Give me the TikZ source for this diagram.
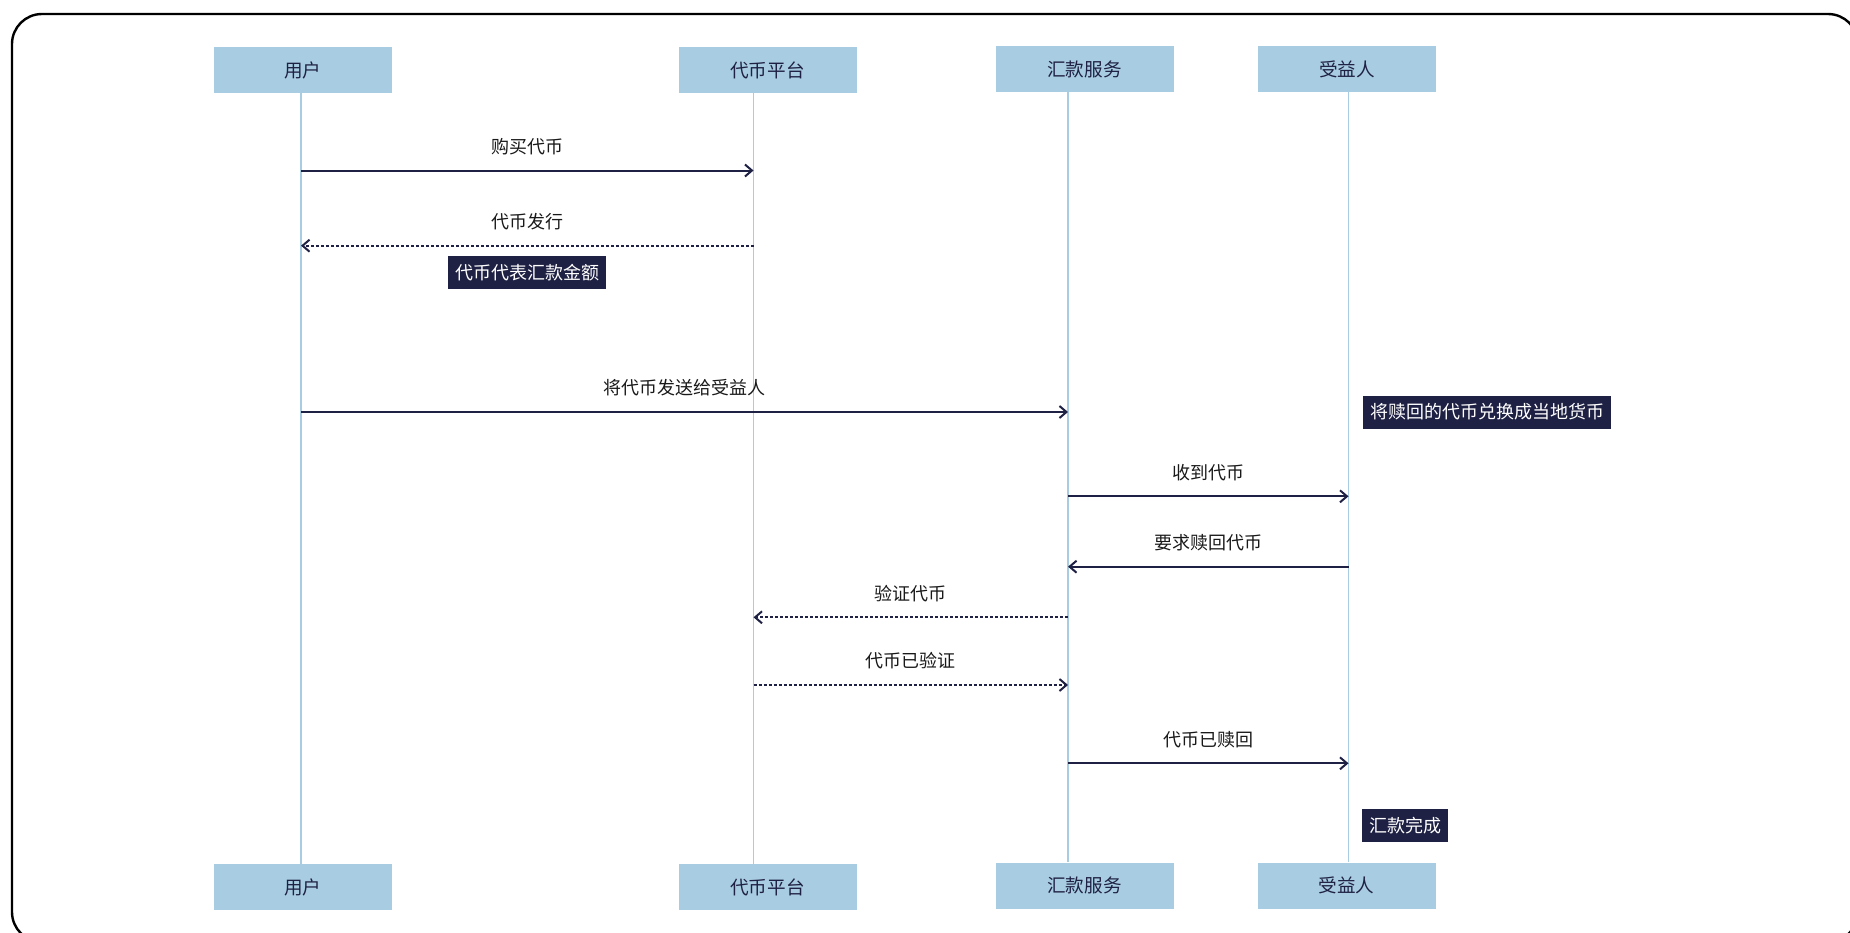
\documentclass[tikz,border=0pt]{standalone}
\usepackage{fontspec}
\newfontfamily\cjk{Noto Sans CJK SC}
\usetikzlibrary{arrows.meta}
\definecolor{boxblue}{HTML}{A8CCE1}
\definecolor{navy}{HTML}{1F2144}
\tikzset{
  actor/.style={fill=boxblue, minimum width=89pt, minimum height=23pt, inner sep=0pt,
    text=navy, font=\cjk\fontsize{9.3}{10}\selectfont},
  life/.style={draw=boxblue, line width=0.6pt},
  msg/.style={draw=navy, line width=1pt, -{Straight Barb[length=3.5pt,width=6pt]}},
  reply/.style={msg, dash pattern=on 1.5pt off 1pt},
  lbl/.style={midway, yshift=12pt, text=black!90, font=\cjk\fontsize{9}{10}\selectfont},
  note/.style={fill=navy, text=white, inner xsep=3.6pt, inner ysep=0pt, minimum height=16.5pt,
    font=\cjk\fontsize{9}{10}\selectfont}
}
\begin{document}
\begin{tikzpicture}[x=0.5pt, y=-0.5pt]
        \useasboundingbox (0,0) rectangle (1850,932);
        \draw[line width=1.2pt, rounded corners=15pt] (12,14) rectangle (1858,942);
        %
        \node[actor] (userT) at (302.6,70) {用户};
        \node[actor] (platT) at (767.5,70) {代币平台};
        \node[actor] (servT) at (1084.5,69) {汇款服务};
        \node[actor] (beneT) at (1347,69) {受益人};
        \node[actor] (userB) at (302.6,887) {用户};
        \node[actor] (platB) at (767.5,887) {代币平台};
        \node[actor] (servB) at (1084.5,885.5) {汇款服务};
        \node[actor] (beneB) at (1346.5,885.5) {受益人};
        %
        \coordinate (lu) at (301,0);
        \coordinate (lp) at (753.5,0);
        \coordinate (ls) at (1068,0);
        \coordinate (lb) at (1348.5,0);
        \draw[life] (lu |- userT.south) -- (lu |- userB.north);
        \draw[life] (lp |- platT.south) -- (lp |- platB.north);
        \draw[life] (ls |- servT.south) -- (ls |- servB.north);
        \draw[life] (lb |- beneT.south) -- (lb |- beneB.north);
        %
        \coordinate (r1) at (0,170.5);
        \coordinate (r2) at (0,245.7);
        \coordinate (r4) at (0,412);
        \coordinate (r6) at (0,496.3);
        \coordinate (r7) at (0,566.7);
        \coordinate (r8) at (0,617.3);
        \coordinate (r9) at (0,685);
        \coordinate (r10) at (0,763.3);
        %
        \draw[msg] (lu |- r1) -- node[lbl] (t1) {购买代币} (lp |- r1);
        \draw[reply] (lp |- r2) -- node[lbl] (t2) {代币发行} (lu |- r2);
        \node[note] (n1) at (527,272.5) {代币代表汇款金额};
        \draw[msg] (lu |- r4) -- node[lbl] (t4) {将代币发送给受益人} (ls |- r4);
        \node[note, anchor=west] (n2) at (1362.5,412) {将赎回的代币兑换成当地货币};
        \draw[msg] (ls |- r6) -- node[lbl] (t6) {收到代币} (lb |- r6);
        \draw[msg] (lb |- r7) -- node[lbl] (t7) {要求赎回代币} (ls |- r7);
        \draw[reply] (ls |- r8) -- node[lbl] (t8) {验证代币} (lp |- r8);
        \draw[reply] (lp |- r9) -- node[lbl] (t9) {代币已验证} (ls |- r9);
        \draw[msg] (ls |- r10) -- node[lbl] (t10) {代币已赎回} (lb |- r10);
        \node[note, anchor=west] (n3) at (1361.5,825.4) {汇款完成};
\end{tikzpicture}
\end{document}
